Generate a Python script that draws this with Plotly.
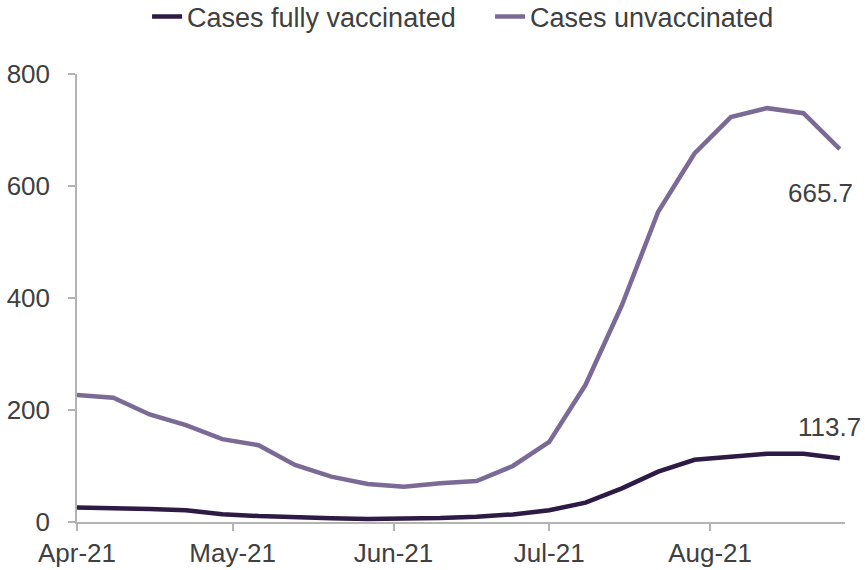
import plotly.graph_objects as go
import pandas as pd

dates = pd.date_range("2021-04-01", periods=22, freq="7D")
fully_vaccinated = [26, 25.5, 23, 21, 14, 10.5, 8, 6.5, 5.5, 5.5, 7, 9.5, 13.5, 21,
                    34.5, 60, 90, 111, 117, 122, 122, 113.7]
unvaccinated = [227, 222, 192, 173, 148, 137, 102, 81, 68, 63, 69, 73, 100, 143,
                245, 387, 554, 658, 723, 739, 730, 665.7]
series_names = ["Cases fully vaccinated", "Cases unvaccinated"]
y_ticks = [0, 200, 400, 600, 800]

c_vax = "#2d1a45"
c_unvax = "#7b6a96"
font_family = "Liberation Sans, Arial, sans-serif"
text_col = "#404040"
fs = 26

fig = go.Figure()
fig.add_trace(go.Scatter(x=dates, y=fully_vaccinated, mode="lines", name=series_names[0],
                         line=dict(color=c_vax, width=4.5)))
fig.add_trace(go.Scatter(x=dates, y=unvaccinated, mode="lines", name=series_names[1],
                         line=dict(color=c_unvax, width=4.5)))

fig.add_annotation(x=dates[-1], y=unvaccinated[-1], text=f"{unvaccinated[-1]:.1f}",
                   showarrow=False, xanchor="center", yanchor="top", xshift=-19, yshift=-27,
                   font=dict(size=fs, color=text_col, family=font_family))
fig.add_annotation(x=dates[-1], y=fully_vaccinated[-1], text=f"{fully_vaccinated[-1]:.1f}",
                   showarrow=False, xanchor="center", yanchor="bottom", xshift=-10, yshift=14,
                   font=dict(size=fs, color=text_col, family=font_family))

fig.update_layout(
    width=865, height=570,
    margin=dict(l=77, r=20, t=74, b=48),
    paper_bgcolor="white", plot_bgcolor="white",
    font=dict(family=font_family, size=fs, color=text_col),
    showlegend=True,
    legend=dict(orientation="h", x=0.17, xanchor="left", xref="container",
                y=1 - 17 / 570, yref="container", yanchor="middle",
                font=dict(size=27, color=text_col), entrywidth=298,
                traceorder="normal", bgcolor="rgba(0,0,0,0)"),
    xaxis=dict(type="date", range=["2021-04-01", "2021-08-27"], tick0="2021-04-01",
               dtick="M1", tickformat="%b-%y", showgrid=False, zeroline=False,
               showline=True, linecolor="#b3b3b3", linewidth=1.5, automargin=False,
               ticks="outside", ticklen=7, tickcolor="#b3b3b3", tickwidth=1.5,
               tickfont=dict(size=fs, color=text_col)),
    yaxis=dict(range=[0, 800], tickvals=y_ticks, showgrid=False, zeroline=False,
               showline=True, linecolor="#b3b3b3", linewidth=1.5, automargin=False,
               ticks="outside", ticklen=7, tickcolor="#b3b3b3", tickwidth=1.5,
               tickfont=dict(size=fs, color=text_col), ticklabelstandoff=13),
)

fig.write_html("out.html", config={"displayModeBar": False},
               post_script="document.body.style.margin='0';")
